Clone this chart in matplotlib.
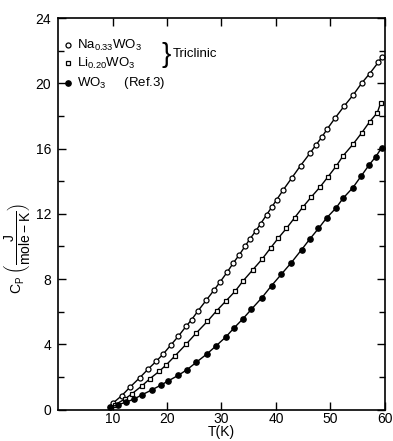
import numpy as np
import matplotlib.pyplot as plt
from matplotlib.ticker import MultipleLocator

plt.rcParams['font.family'] = ['Liberation Sans', 'DejaVu Sans']
plt.rcParams['mathtext.fontset'] = 'custom'
plt.rcParams['mathtext.rm'] = 'Liberation Sans'
plt.rcParams['mathtext.it'] = 'Liberation Sans'

# Na0.33WO3 (open circles)
na_T = [10.1, 11.7, 13.3, 15.0, 16.6, 18.0, 19.3, 20.7, 22.1, 23.5, 24.5, 25.7, 27.2,
        28.7, 29.7, 31.1, 32.2, 33.3, 34.3, 35.2, 36.3, 37.2, 38.3, 39.2, 40.1, 41.3,
        42.9, 44.5, 46.2, 47.3, 48.4, 49.4, 50.8, 52.5, 54.2, 55.7, 57.2, 58.8, 59.4]
na_cp = [0.4, 0.85, 1.4, 1.95, 2.5, 2.95, 3.4, 3.95, 4.5, 5.1, 5.5, 6.05, 6.7,
         7.35, 7.8, 8.45, 9.0, 9.5, 10.0, 10.45, 10.95, 11.4, 11.95, 12.4, 12.85, 13.45,
         14.2, 14.95, 15.7, 16.2, 16.7, 17.2, 17.85, 18.6, 19.3, 20.0, 20.6, 21.3, 21.6]

# Li0.20WO3 (open squares)
li_T = [10.5, 12.3, 13.5, 15.4, 16.9, 18.6, 19.9, 21.5, 23.5, 25.4, 27.4, 29.1, 30.8,
        32.5, 34.0, 35.7, 37.4, 39.0, 40.4, 41.9, 43.4, 44.9, 46.4, 48.1, 49.5, 51.0,
        52.3, 54.1, 55.7, 57.2, 58.6, 59.2]
li_cp = [0.3, 0.65, 0.95, 1.45, 1.9, 2.35, 2.75, 3.3, 4.0, 4.7, 5.4, 6.05, 6.65,
         7.25, 7.9, 8.55, 9.2, 9.9, 10.5, 11.1, 11.75, 12.4, 13.0, 13.65, 14.25, 14.9,
         15.55, 16.25, 16.95, 17.65, 18.2, 18.8]

# WO3, Ref.3 (filled circles)
wo_T = [9.5, 11.1, 12.5, 14.0, 15.4, 17.2, 18.9, 20.2, 22.1, 23.7, 25.4, 27.3, 29.0,
        30.8, 32.3, 33.9, 35.5, 37.4, 39.2, 41.0, 42.8, 44.7, 46.2, 47.8, 49.3, 51.0,
        52.3, 54.1, 55.6, 57.1, 58.3, 59.4]
wo_cp = [0.15, 0.3, 0.45, 0.65, 0.9, 1.2, 1.5, 1.75, 2.1, 2.45, 2.9, 3.4, 3.9,
         4.45, 5.0, 5.55, 6.15, 6.85, 7.6, 8.3, 9.0, 9.8, 10.45, 11.1, 11.75, 12.35,
         12.95, 13.6, 14.3, 15.0, 15.5, 16.05]

x_ticks = [10, 20, 30, 40, 50, 60]
y_ticks = [0, 4, 8, 12, 16, 20, 24]

fig = plt.figure(figsize=(3.93, 4.41), dpi=100)
ax = fig.add_axes([0.1476, 0.0714, 0.832, 0.8876])

ax.plot(na_T, na_cp, '-', color='black', lw=1.0, marker='o', ms=3.6,
        mfc='white', mec='black', mew=0.9)
ax.plot(li_T, li_cp, '-', color='black', lw=1.0, marker='s', ms=3.4,
        mfc='white', mec='black', mew=0.9)
ax.plot(wo_T, wo_cp, '-', color='black', lw=1.0, marker='o', ms=3.8,
        mfc='black', mec='black')

ax.set_xlim(0, 60)
ax.set_ylim(0, 24)
ax.set_xticks(x_ticks)
ax.set_yticks(y_ticks)
ax.yaxis.set_minor_locator(MultipleLocator(2))
ax.tick_params(which='both', direction='in', top=True, right=True, labelsize=10)
ax.tick_params(axis='x', pad=2)
ax.tick_params(axis='y', pad=5)
ax.tick_params(which='major', length=6, width=1)
ax.tick_params(which='minor', length=4, width=1)
for s in ax.spines.values():
    s.set_linewidth(1.2)

ax.set_xlabel('T(K)', fontsize=10, labelpad=-1)
ax.set_ylabel(r'$\mathrm{C_P}\ \left(\dfrac{\mathrm{J}}{\mathrm{mole-K}}\right)$', fontsize=10)
ax.yaxis.set_label_coords(-0.08, 0.41)

# hand-drawn style key
tr = ax.transAxes
ax.plot([0.03], [0.931], 'o', ms=3.6, mfc='white', mec='black', mew=0.9, transform=tr)
ax.plot([0.03], [0.885], 's', ms=3.4, mfc='white', mec='black', mew=0.9, transform=tr)
ax.plot([0.03], [0.834], 'o', ms=3.8, mfc='black', mec='black', transform=tr)
ax.text(0.058, 0.931, r'Na$_{0.33}$WO$_3$', transform=tr, va='center', fontsize=9.5)
ax.text(0.058, 0.885, r'Li$_{0.20}$WO$_3$', transform=tr, va='center', fontsize=9.5)
ax.text(0.058, 0.834, r'WO$_3$     (Ref.3)', transform=tr, va='center', fontsize=9.5)
ax.text(0.318, 0.906, '}', transform=tr, va='center', fontsize=20,
        fontweight='light')
ax.text(0.352, 0.908, 'Triclinic', transform=tr, va='center', fontsize=9.5)

fig.savefig('out.png', dpi=100)
